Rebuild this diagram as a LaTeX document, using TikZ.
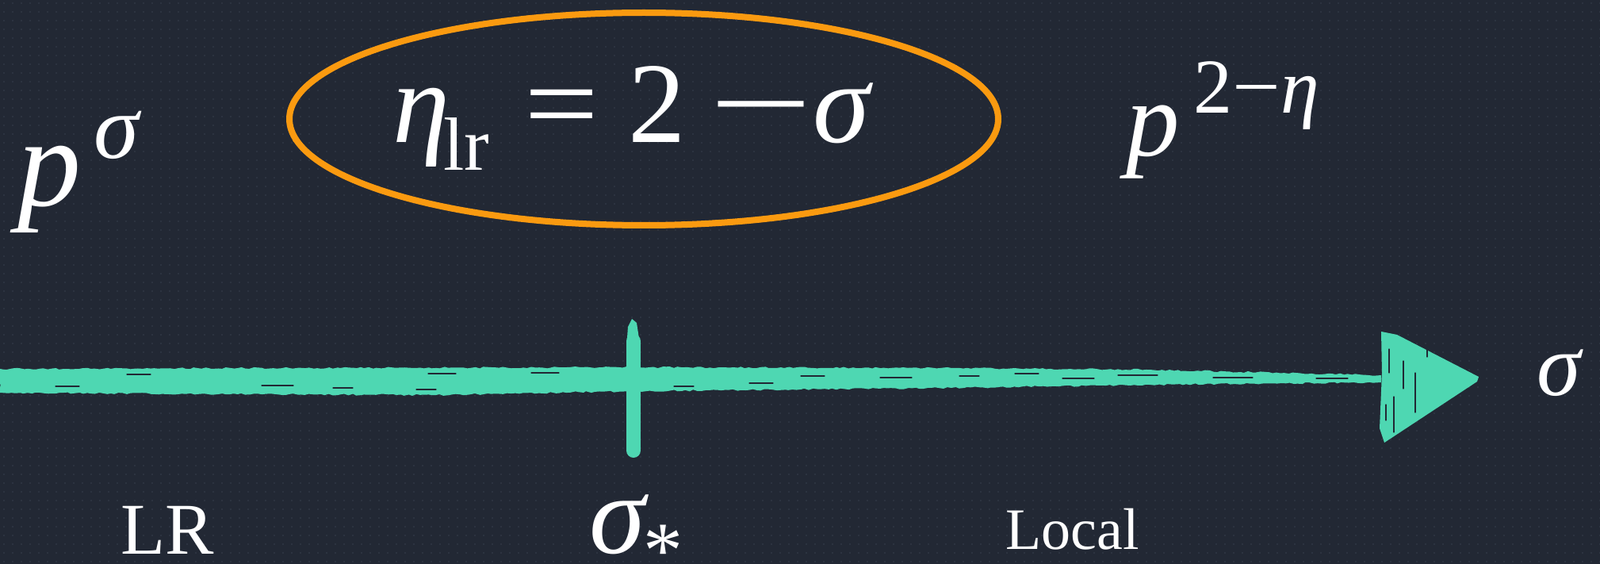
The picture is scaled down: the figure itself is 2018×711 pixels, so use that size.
\documentclass[tikz,border=0pt]{standalone}
\usepackage{fontspec}
\usetikzlibrary{decorations.pathmorphing}
\setmainfont{Liberation Serif}
\definecolor{bg}{HTML}{222834}
\definecolor{dotc}{HTML}{2C3340}
\definecolor{teal}{HTML}{4ED7B2}
\definecolor{orng}{HTML}{FA9A10}
\tikzset{
  txt/.style={text=white, inner sep=0pt, anchor=base west},
  streak/.style={draw=bg, line width=1.2pt, line cap=round},
  rough/.style={decorate, decoration={random steps, segment length=5pt, amplitude=1.1pt}},
}
\newcommand{\fs}[1]{\fontsize{#1}{#1}\selectfont}
\begin{document}
\begin{tikzpicture}[x=1pt,y=-1pt]
\fill[bg] (0,0) rectangle (2018,711);
\useasboundingbox (0,0) rectangle (2018,711);
% dotted grid
\foreach \yy in {4,15,...,711} {
  \draw[dotc, line width=2.4pt, dash pattern=on 2.4pt off 8.6pt] (4,\yy) -- (2018,\yy);
}
% ellipse (brush look)
\draw[orng, line width=8pt] (812,150) ellipse [x radius=447, y radius=134];
\draw[orng, line width=3pt, line join=round, decorate,
  decoration={random steps, segment length=5pt, amplitude=2.5pt}] (812,150) ellipse [x radius=447, y radius=134];
% axis brush stroke
\coordinate (axstart) at (0,480);
\coordinate (axend) at (1742,478);
\fill[teal, rough] (0,465) -- (300,464) -- (800,463) -- (1200,464) -- (1450,466) -- (1742,473)
  -- (1742,482) -- (1450,485) -- (1200,489) -- (800,493) -- (550,498) -- (300,497) -- (0,495) -- cycle;
\foreach \xa/\xb/\yy in {330/370/486, 420/445/489, 525/550/491, 540/575/471, 670/705/470, 850/875/487,
  945/975/483, 1010/1040/474, 1110/1150/476, 1210/1235/474, 1280/1310/471, 1340/1380/477,
  1410/1460/473, 1530/1580/476, 1660/1700/477, 70/100/487, 160/190/472} {
  \draw[streak] (\xa,\yy) -- (\xb,\yy);
}
% tick
\fill[teal] (790,440) -- (792,412) -- (797,402) -- (803,407) -- (808,440) -- cycle;
\draw[teal, line width=18pt, line cap=round] (799,430) -- (799,568);
% arrowhead
\fill[teal] (1742,418) -- (1762,422) -- (1865,475) -- (1863,481) -- (1746,558) -- (1740,540) -- (1743,470) -- cycle;
\foreach \xx/\ya/\yb in {1752/440/470, 1758/500/545, 1770/455/490, 1785/470/520, 1748/510/530, 1800/440/450} {
  \draw[streak] (\xx,\ya) -- (\xx,\yb);
}
% texts
\node[txt] (psig) at (22,260) {\fs{160}\textit{p}\hspace{16pt}\raisebox{60pt}{\fs{115}\textit{σ}}};
\node[txt] (eq) at (495,180) {\fs{145}\textit{η}\hspace{-8pt}\raisebox{-35pt}{\fs{95}lr}\hspace{44pt}\scalebox{1.15}[1]{=}\hspace{37pt}2\hspace{30pt}\scalebox{1.6}[1]{−}\hspace{0pt}\textit{σ}};
\node[txt] (peta) at (1420,197) {\fs{135}\textit{p}\hspace{18pt}\raisebox{54pt}{\fs{98}2\scalebox{1.1}[1]{−}\textit{η}}};
\node[txt] (sigax) at (1938,498) {\fs{112}\textit{σ}};
\node[txt] (sigstar) at (743,697) {\fs{143}\textit{σ}\hspace{-7pt}\raisebox{-30pt}{\fs{100}*}};
\node[txt] (lr) at (152,698) {\fs{92}LR};
\node[txt] (local) at (1268,692) {\fs{74}Local};
\end{tikzpicture}
\end{document}
